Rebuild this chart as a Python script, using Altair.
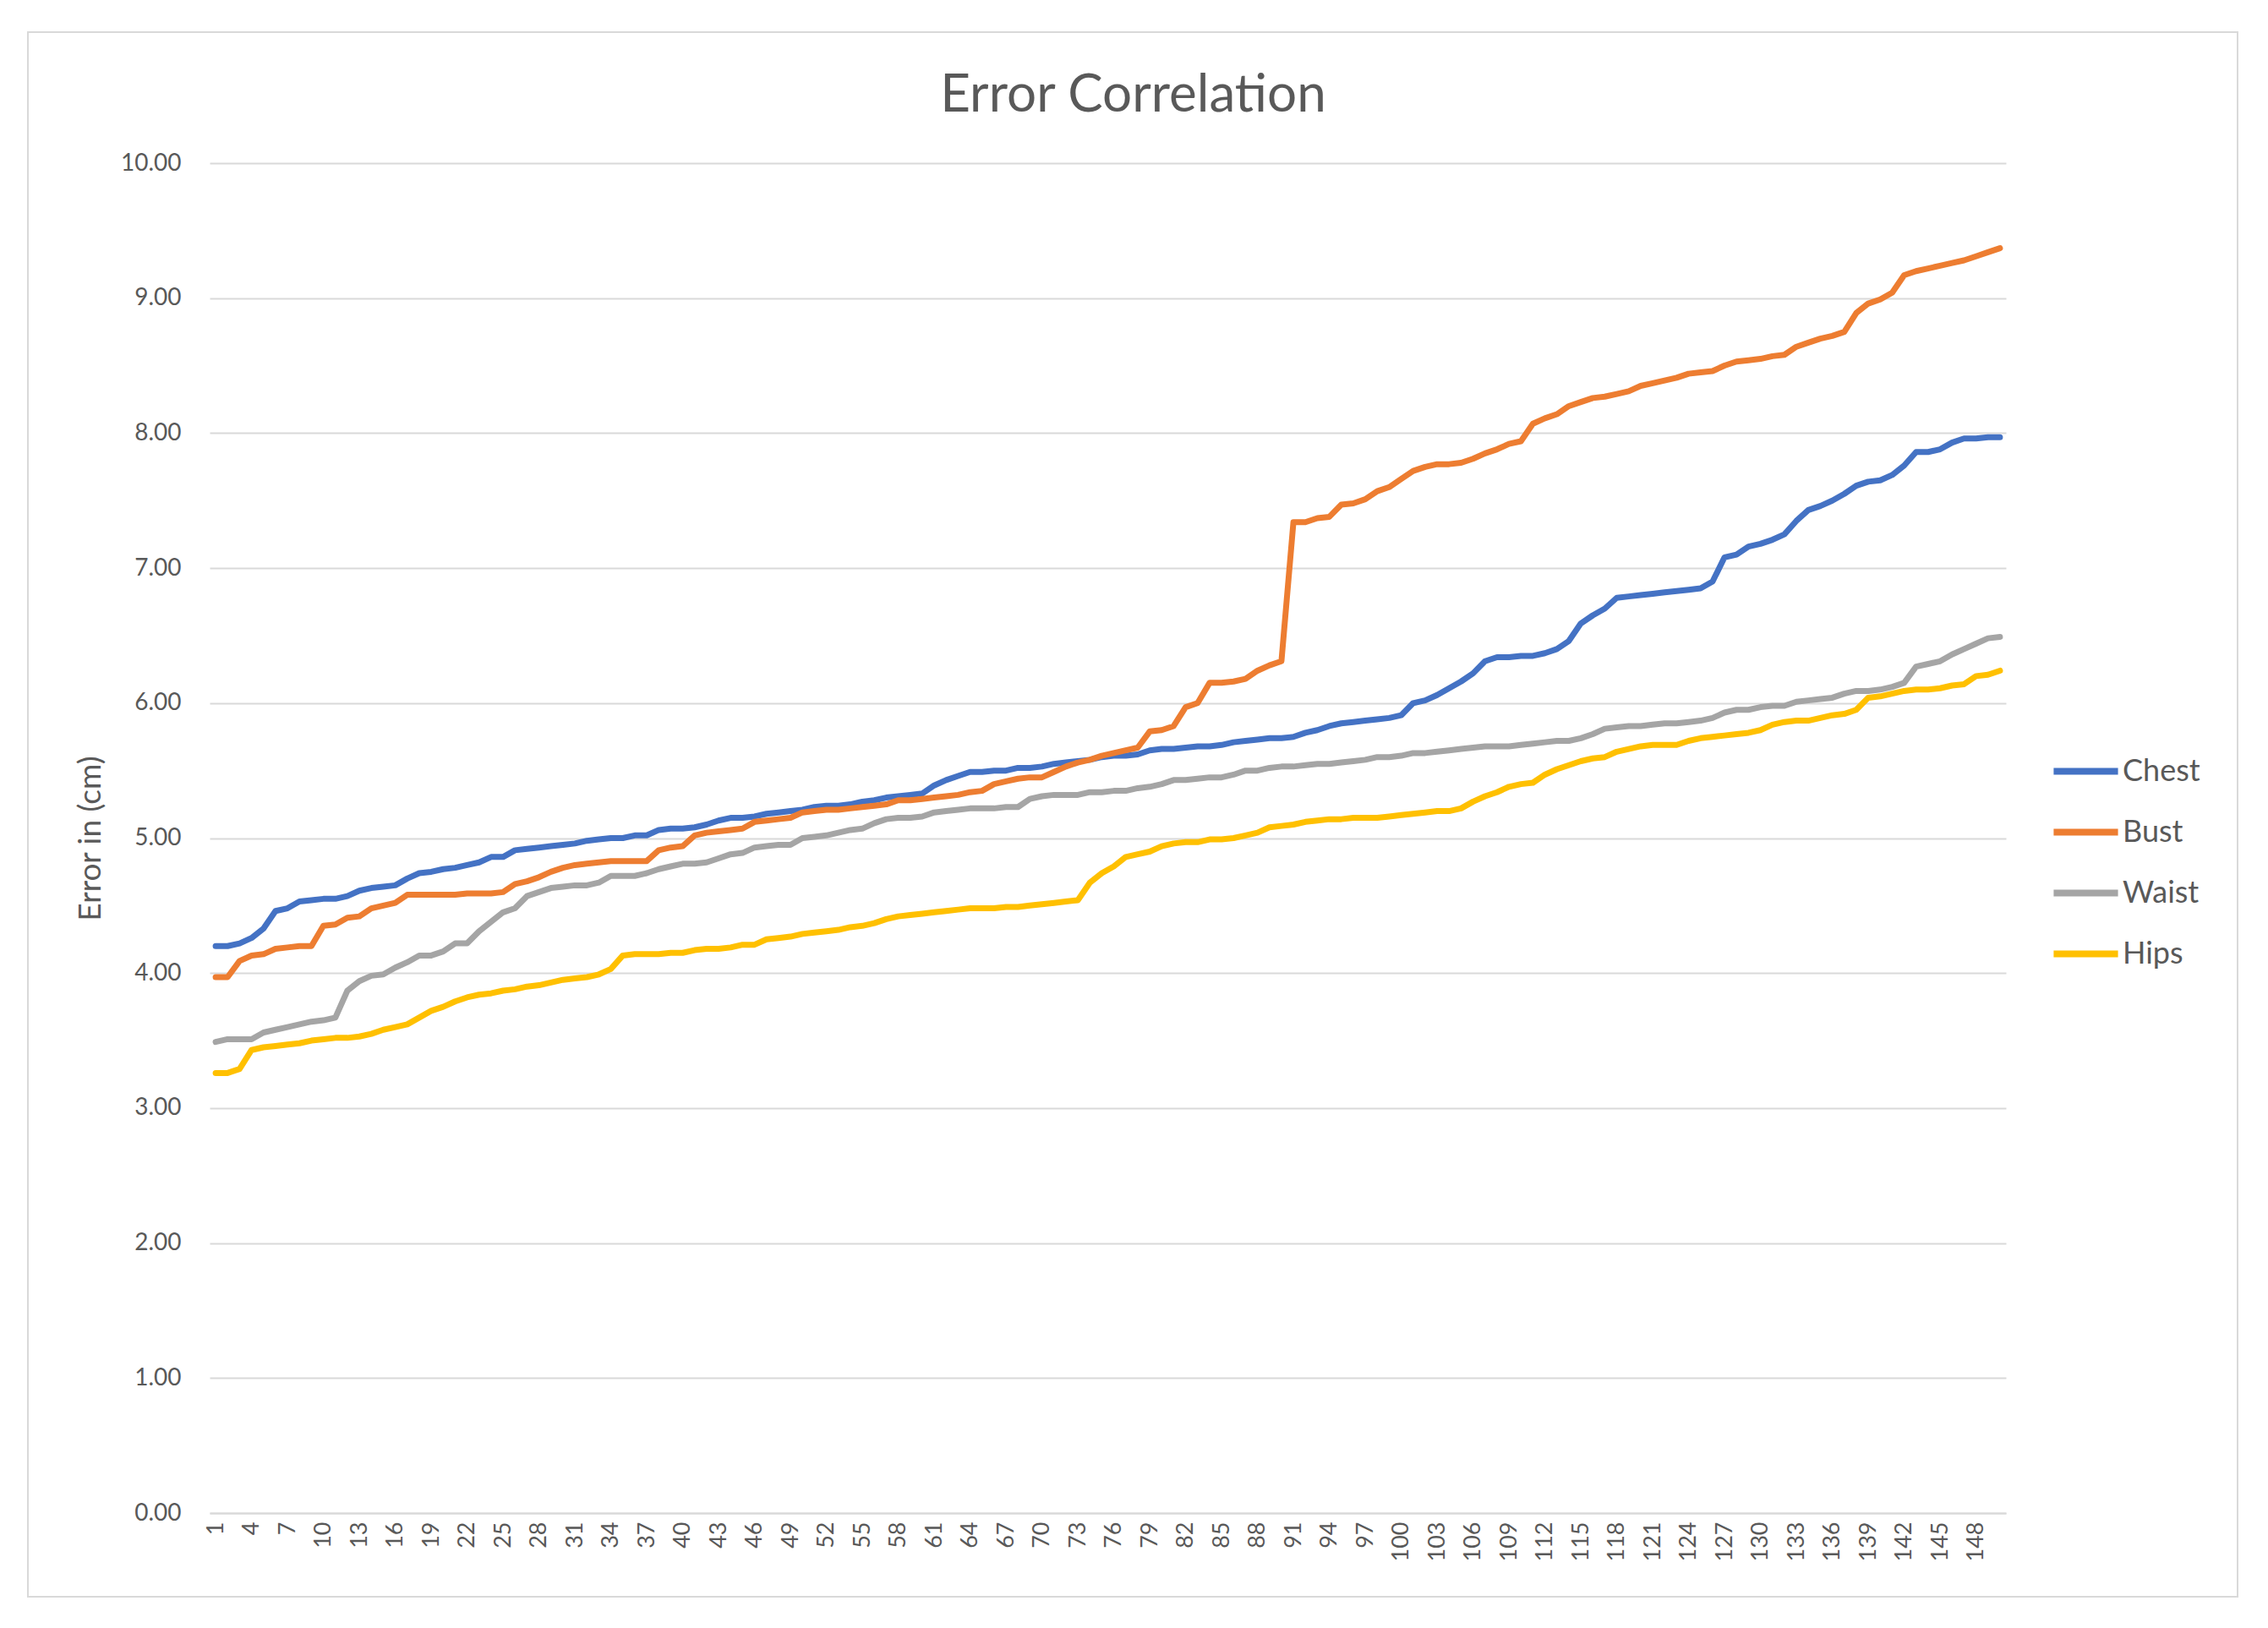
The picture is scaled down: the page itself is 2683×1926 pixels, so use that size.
import altair as alt
import pandas as pd

# ---------------- data ----------------
points = list(range(1, 151))

chest = [
    4.20, 4.20, 4.22, 4.26, 4.33, 4.46, 4.48, 4.53, 4.54, 4.55, 4.55, 4.57, 4.61, 4.63, 4.64, 4.65,
    4.70, 4.74, 4.75, 4.77, 4.78, 4.80, 4.82, 4.86, 4.86, 4.91, 4.92, 4.93, 4.94, 4.95, 4.96,
    4.98, 4.99, 5.00, 5.00, 5.02, 5.02, 5.06, 5.07, 5.07, 5.08, 5.10, 5.13, 5.15, 5.15, 5.16,
    5.18, 5.19, 5.20, 5.21, 5.23, 5.24, 5.24, 5.25, 5.27, 5.28, 5.30, 5.31, 5.32, 5.33, 5.39, 5.43,
    5.46, 5.49, 5.49, 5.50, 5.50, 5.52, 5.52, 5.53, 5.55, 5.56, 5.57, 5.58, 5.60, 5.61, 5.61,
    5.62, 5.65, 5.66, 5.66, 5.67, 5.68, 5.68, 5.69, 5.71, 5.72, 5.73, 5.74, 5.74, 5.75, 5.78, 5.80,
    5.83, 5.85, 5.86, 5.87, 5.88, 5.89, 5.91, 6.00, 6.02, 6.06, 6.11, 6.16, 6.22, 6.31, 6.34,
    6.34, 6.35, 6.35, 6.37, 6.40, 6.46, 6.59, 6.65, 6.70, 6.78, 6.79, 6.80, 6.81, 6.82,
    6.83, 6.84, 6.85, 6.90, 7.08, 7.10, 7.16, 7.18, 7.21, 7.25, 7.35, 7.43, 7.46, 7.50,
    7.55, 7.61, 7.64, 7.65, 7.69, 7.76, 7.86, 7.86, 7.88, 7.93, 7.96, 7.96, 7.97, 7.97,
]

bust = [
    3.97, 3.97, 4.09, 4.13, 4.14, 4.18, 4.19, 4.20, 4.20, 4.35, 4.36, 4.41, 4.42, 4.48, 4.50, 4.52,
    4.58, 4.58, 4.58, 4.58, 4.58, 4.59, 4.59, 4.59, 4.60, 4.66, 4.68, 4.71, 4.75, 4.78, 4.80,
    4.81, 4.82, 4.83, 4.83, 4.83, 4.83, 4.91, 4.93, 4.94, 5.02, 5.04, 5.05, 5.06, 5.07, 5.12,
    5.13, 5.14, 5.15, 5.19, 5.20, 5.21, 5.21, 5.22, 5.23, 5.24, 5.25, 5.28, 5.28, 5.29, 5.30, 5.31,
    5.32, 5.34, 5.35, 5.40, 5.42, 5.44, 5.45, 5.45, 5.49, 5.53, 5.56, 5.58, 5.61, 5.63, 5.65,
    5.67, 5.79, 5.80, 5.83, 5.97, 6.00, 6.15, 6.15, 6.16, 6.18, 6.24, 6.28, 6.31, 7.34, 7.34, 7.37,
    7.38, 7.47, 7.48, 7.51, 7.57, 7.60, 7.66, 7.72, 7.75, 7.77, 7.77, 7.78, 7.81, 7.85, 7.88,
    7.92, 7.94, 8.07, 8.11, 8.14, 8.20, 8.23, 8.26, 8.27, 8.29, 8.31, 8.35, 8.37, 8.39,
    8.41, 8.44, 8.45, 8.46, 8.50, 8.53, 8.54, 8.55, 8.57, 8.58, 8.64, 8.67, 8.70, 8.72,
    8.75, 8.89, 8.96, 8.99, 9.04, 9.17, 9.20, 9.22, 9.24, 9.26, 9.28, 9.31, 9.34, 9.37,
]

waist = [
    3.49, 3.51, 3.51, 3.51, 3.56, 3.58, 3.60, 3.62, 3.64, 3.65, 3.67, 3.87, 3.94, 3.98, 3.99, 4.04,
    4.08, 4.13, 4.13, 4.16, 4.22, 4.22, 4.31, 4.38, 4.45, 4.48, 4.57, 4.60, 4.63, 4.64, 4.65,
    4.65, 4.67, 4.72, 4.72, 4.72, 4.74, 4.77, 4.79, 4.81, 4.81, 4.82, 4.85, 4.88, 4.89, 4.93,
    4.94, 4.95, 4.95, 5.00, 5.01, 5.02, 5.04, 5.06, 5.07, 5.11, 5.14, 5.15, 5.15, 5.16, 5.19, 5.20,
    5.21, 5.22, 5.22, 5.22, 5.23, 5.23, 5.29, 5.31, 5.32, 5.32, 5.32, 5.34, 5.34, 5.35, 5.35,
    5.37, 5.38, 5.40, 5.43, 5.43, 5.44, 5.45, 5.45, 5.47, 5.50, 5.50, 5.52, 5.53, 5.53, 5.54, 5.55,
    5.55, 5.56, 5.57, 5.58, 5.60, 5.60, 5.61, 5.63, 5.63, 5.64, 5.65, 5.66, 5.67, 5.68, 5.68,
    5.68, 5.69, 5.70, 5.71, 5.72, 5.72, 5.74, 5.77, 5.81, 5.82, 5.83, 5.83, 5.84, 5.85,
    5.85, 5.86, 5.87, 5.89, 5.93, 5.95, 5.95, 5.97, 5.98, 5.98, 6.01, 6.02, 6.03, 6.04,
    6.07, 6.09, 6.09, 6.10, 6.12, 6.15, 6.27, 6.29, 6.31, 6.36, 6.40, 6.44, 6.48, 6.49,
]

hips = [
    3.26, 3.26, 3.29, 3.43, 3.45, 3.46, 3.47, 3.48, 3.50, 3.51, 3.52, 3.52, 3.53, 3.55, 3.58, 3.60,
    3.62, 3.67, 3.72, 3.75, 3.79, 3.82, 3.84, 3.85, 3.87, 3.88, 3.90, 3.91, 3.93, 3.95, 3.96,
    3.97, 3.99, 4.03, 4.13, 4.14, 4.14, 4.14, 4.15, 4.15, 4.17, 4.18, 4.18, 4.19, 4.21, 4.21,
    4.25, 4.26, 4.27, 4.29, 4.30, 4.31, 4.32, 4.34, 4.35, 4.37, 4.40, 4.42, 4.43, 4.44, 4.45, 4.46,
    4.47, 4.48, 4.48, 4.48, 4.49, 4.49, 4.50, 4.51, 4.52, 4.53, 4.54, 4.67, 4.74, 4.79, 4.86,
    4.88, 4.90, 4.94, 4.96, 4.97, 4.97, 4.99, 4.99, 5.00, 5.02, 5.04, 5.08, 5.09, 5.10, 5.12, 5.13,
    5.14, 5.14, 5.15, 5.15, 5.15, 5.16, 5.17, 5.18, 5.19, 5.20, 5.20, 5.22, 5.27, 5.31, 5.34,
    5.38, 5.40, 5.41, 5.47, 5.51, 5.54, 5.57, 5.59, 5.60, 5.64, 5.66, 5.68, 5.69, 5.69,
    5.69, 5.72, 5.74, 5.75, 5.76, 5.77, 5.78, 5.80, 5.84, 5.86, 5.87, 5.87, 5.89, 5.91,
    5.92, 5.95, 6.04, 6.05, 6.07, 6.09, 6.10, 6.10, 6.11, 6.13, 6.14, 6.20, 6.21, 6.24,
]

series_names = ["Chest", "Bust", "Waist", "Hips"]
series_colors = ["#4472C4", "#ED7D31", "#A5A5A5", "#FFC000"]
x_tick_values = list(range(1, 151, 3))
y_tick_values = [0, 1, 2, 3, 4, 5, 6, 7, 8, 9, 10]

for s in (chest, bust, waist, hips):
    assert len(s) == len(points), len(s)

rows = []
for order, (name, vals) in enumerate(zip(series_names, [chest, bust, waist, hips])):
    for p, v in zip(points, vals):
        rows.append({"Point": p, "Series": name, "Error": v, "ord": order})
df = pd.DataFrame(rows)

FONT = "Lato"
TXT = "#595959"
GRID = "#D9D9D9"

W, H = 2125, 1597

lines = alt.Chart(df).mark_line(
    strokeWidth=7, strokeCap="round", strokeJoin="round"
).encode(
    x=alt.X(
        "Point:Q",
        scale=alt.Scale(domain=[0.5, 150.5], nice=False, zero=False),
        axis=alt.Axis(
            values=x_tick_values, labelAngle=270, title=None, grid=False, ticks=False,
            domain=True, domainColor=GRID, domainWidth=2, labelFontSize=27,
            labelFont=FONT, labelColor=TXT, labelPadding=10, labelOverlap=False,
            labelBound=False, labelFlush=False,
        ),
    ),
    y=alt.Y(
        "Error:Q",
        scale=alt.Scale(domain=[0, 10], nice=False),
        axis=alt.Axis(
            values=y_tick_values, format=".2f", title="Error in (cm)", grid=True,
            gridColor=GRID, gridWidth=2, ticks=False, domain=False,
            labelFontSize=28, labelFont=FONT, labelColor=TXT, labelPadding=34,
            titleFont=FONT, titleFontSize=37, titleFontWeight="normal", titleColor=TXT,
            titlePadding=16,
        ),
    ),
    color=alt.Color(
        "Series:N",
        scale=alt.Scale(domain=series_names, range=series_colors),
        legend=alt.Legend(
            title=None, orient="none", legendX=2177, legendY=677,
            symbolType="stroke", symbolSize=5800, symbolStrokeWidth=8,
            labelFont=FONT, labelFontSize=36, labelColor=TXT, labelOffset=1,
            rowPadding=11, padding=0,
        ),
    ),
    detail="Series:N",
    order=alt.Order("ord:Q"),
)

frame = alt.Chart(pd.DataFrame({"k": [0]})).mark_rect(
    fill=None, stroke=GRID, strokeWidth=2
).encode(
    x=alt.value(-215), x2=alt.value(2399), y=alt.value(-155), y2=alt.value(1696)
)

chart = alt.layer(frame, lines).properties(
    width=W,
    height=H,
    title=alt.TitleParams(
        "Error Correlation", font=FONT, fontSize=62, fontWeight="normal", color=TXT,
        anchor="middle", dx=30, offset=-157, baseline="alphabetic",
    ),
    autosize=alt.AutoSizeParams(type="none"),
    padding={"left": 240, "top": 185, "right": 290, "bottom": 120},
    background="white",
).configure_view(stroke=None)

chart.save("out.html", embed_options={"renderer": "svg", "actions": False})
